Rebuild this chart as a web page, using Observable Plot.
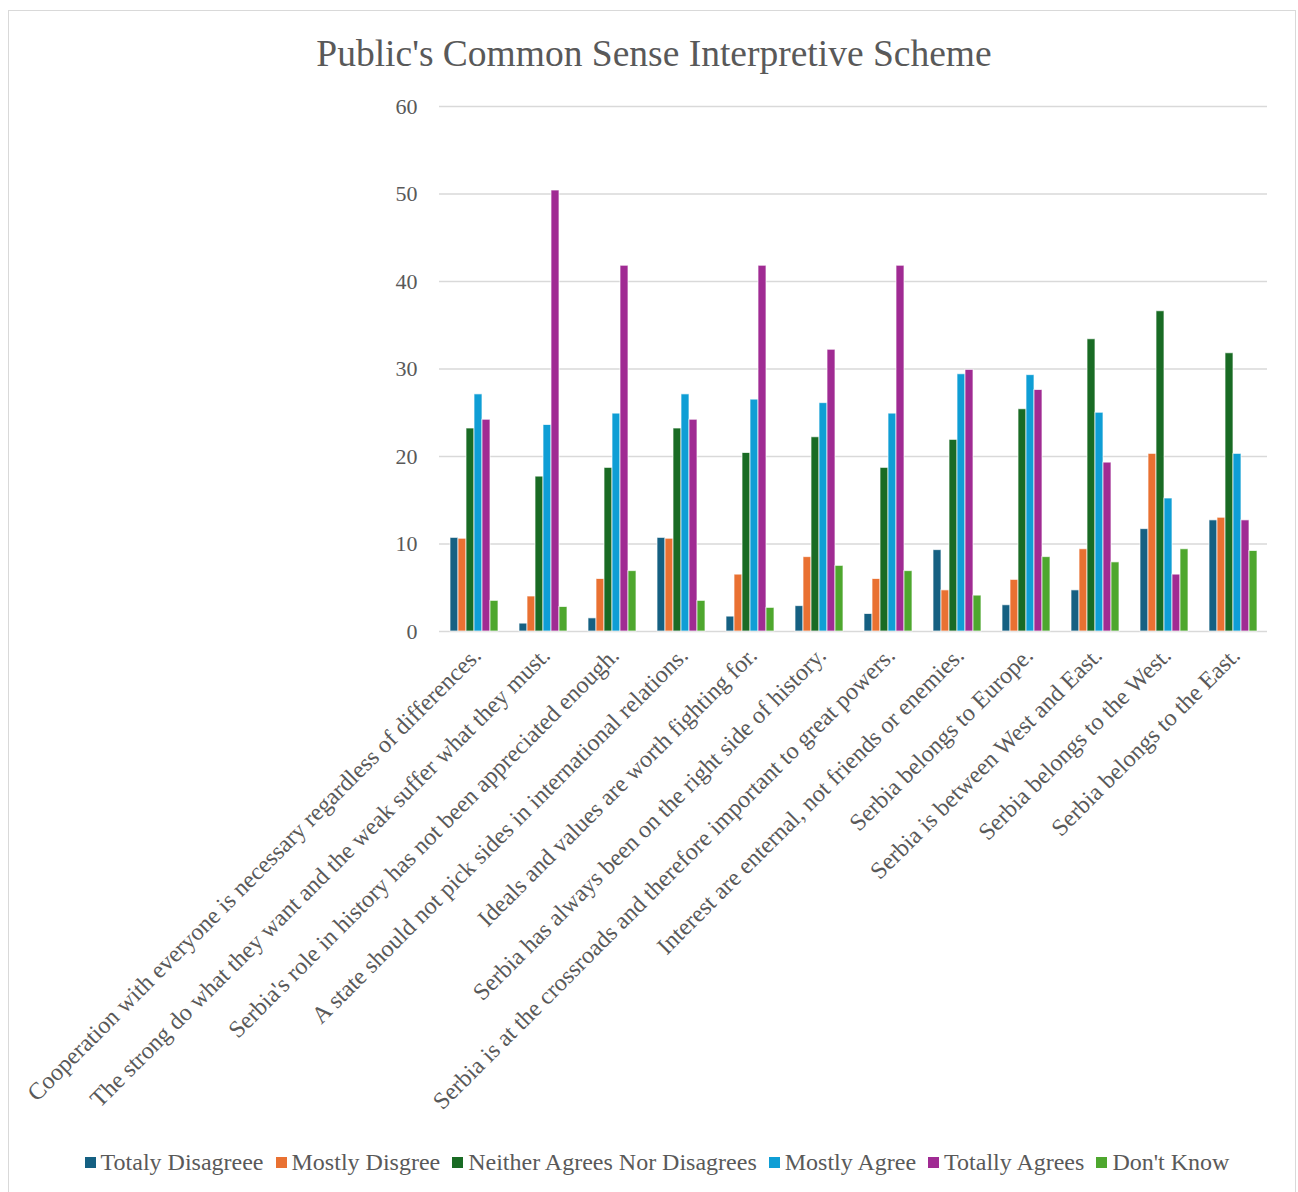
<!DOCTYPE html>
<html>
<head>
<meta charset="utf-8">
<script src="https://cdn.jsdelivr.net/npm/d3@7"></script>
<script src="https://cdn.jsdelivr.net/npm/@observablehq/plot@0.6"></script>
<style>
  html, body { margin: 0; padding: 0; background: #fff; }
  body { width: 1298px; height: 1192px; position: relative; overflow: hidden; font-family: "Liberation Serif", "Times New Roman", serif; color: #595959; }
  #frame { position: absolute; left: 8px; top: 10px; width: 1288px; height: 1200px; border: 1.5px solid #d9d9d9; box-sizing: border-box; }
  #title { position: absolute; left: 5px; width: 1298px; top: 35px; text-align: center; font-size: 37.5px; line-height: 37.5px; }
  #chart { position: absolute; left: 0; top: 0; }
  #legend { position: absolute; left: 8px; width: 1298px; top: 1150px; display: flex; justify-content: center; font-size: 24px; line-height: 24px; }
  .item { display: flex; align-items: center; margin: 0 6px; }
  .sw { width: 11px; height: 11px; margin-right: 5px; }
</style>
</head>
<body>
<div id="frame"></div>
<div id="title">Public's Common Sense Interpretive Scheme</div>
<div id="chart"></div>
<div id="legend"></div>
<script>
// Statements shown along the x axis
const categories = [
  "Cooperation with everyone is necessary regardless of differences.",
  "The strong do what they want and the weak suffer what they must.",
  "Serbia's role in history has not been appreciated enough.",
  "A state should not pick sides in international relations.",
  "Ideals and values are worth fighting for.",
  "Serbia has always been on the right side of history.",
  "Serbia is at the crossroads and therefore important to great powers.",
  "Interest are enternal, not friends or enemies.",
  "Serbia belongs to Europe.",
  "Serbia is between West and East.",
  "Serbia belongs to the West.",
  "Serbia belongs to the East."
];

// Answer options (legend order)
const series = [
  "Totaly Disagreee",
  "Mostly Disgree",
  "Neither Agrees Nor Disagrees",
  "Mostly Agree",
  "Totally Agrees",
  "Don't Know"
];

const colors = ["#156082", "#e97132", "#196b24", "#0f9ed5", "#a02b93", "#4ea72e"];

// Share of answers (%) per statement, one array per answer option
const totalyDisagree = [10.7, 0.9, 1.5, 10.7, 1.7, 2.9, 2.0, 9.3, 3.0, 4.7, 11.7, 12.7];
const mostlyDisagree = [10.6, 4.0, 6.0, 10.6, 6.5, 8.5, 6.0, 4.7, 5.9, 9.4, 20.3, 13.0];
const neither        = [23.2, 17.7, 18.7, 23.2, 20.4, 22.2, 18.7, 21.9, 25.4, 33.4, 36.6, 31.8];
const mostlyAgree    = [27.1, 23.6, 24.9, 27.1, 26.5, 26.1, 24.9, 29.4, 29.3, 25.0, 15.2, 20.3];
const totallyAgrees  = [24.2, 50.4, 41.8, 24.2, 41.8, 32.2, 41.8, 29.9, 27.6, 19.3, 6.5, 12.7];
const dontKnow       = [3.5, 2.8, 6.9, 3.5, 2.7, 7.5, 6.9, 4.1, 8.5, 7.9, 9.4, 9.2];

const yTicks = [0, 10, 20, 30, 40, 50, 60];

const valuesBySeries = [totalyDisagree, mostlyDisagree, neither, mostlyAgree, totallyAgrees, dontKnow];
const rows = [];
categories.forEach((c, i) => {
  series.forEach((s, j) => rows.push({category: c, series: s, value: valuesBySeries[j][i]}));
});

const font = "'Liberation Serif', 'Times New Roman', serif";
const gapHalf = 8; // half of the space between statement groups

const chart = Plot.plot({
  width: 1298,
  height: 1140,
  marginTop: 106,
  marginBottom: 509,
  marginLeft: 437,
  marginRight: 29,
  style: {fontFamily: font, color: "#595959", background: "transparent"},
  fx: {domain: categories, paddingInner: 0.226, paddingOuter: 0.113, axis: null, label: null},
  x: {domain: series, padding: 0, axis: null},
  y: {domain: [0, 60], axis: null, label: null},
  color: {domain: series, range: colors},
  marks: [
    // gridlines, widened in every group so they run continuously across the gaps
    Plot.ruleY(yTicks, {y: d => d, stroke: "#d9d9d9", strokeWidth: 1.5, insetLeft: -gapHalf, insetRight: -gapHalf}),
    Plot.barY(rows, {fx: "category", x: "series", y: "value", fill: "series", stroke: "white", strokeWidth: 1, strokeOpacity: 0.7}),
    Plot.axisY(yTicks, {tickSize: 0, tickPadding: 22 + gapHalf, fontSize: 22, fill: "#595959", label: null}),
    Plot.axisFx({anchor: "bottom", tickRotate: -45, tickSize: 0, tickPadding: 20, dx: 3, fontSize: 24, fill: "#595959", label: null})
  ]
});
document.getElementById("chart").appendChild(chart);

// Legend row
const legend = document.getElementById("legend");
series.forEach((s, i) => {
  const item = document.createElement("div");
  item.className = "item";
  const sw = document.createElement("span");
  sw.className = "sw";
  sw.style.background = colors[i];
  const label = document.createElement("span");
  label.textContent = s;
  item.appendChild(sw);
  item.appendChild(label);
  legend.appendChild(item);
});
</script>
</body>
</html>
